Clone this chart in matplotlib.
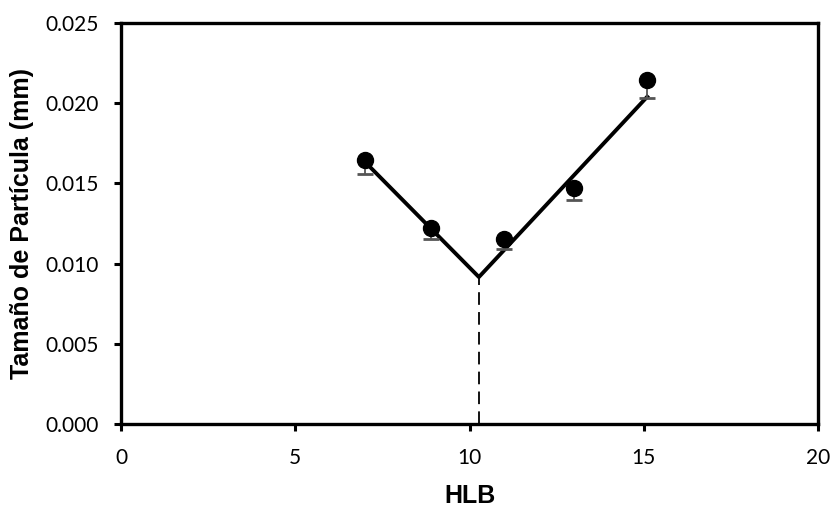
import numpy as np
import matplotlib.pyplot as plt

# datos medidos
hlb = [7.0, 8.9, 11.0, 13.0, 15.1]
tam = [0.01646, 0.01222, 0.01153, 0.01471, 0.02145]
err = [0.00087, 0.0007, 0.0006, 0.00073, 0.0011]

# rectas de ajuste (interseccion en HLB ~10.27)
fit_x = [6.95, 10.27, 15.1]
fit_y = [0.01645, 0.00916, 0.0204]
hlb_opt = 10.27

fig = plt.figure(figsize=(8.34, 5.08), dpi=100)
ax = fig.add_axes([0.1451, 0.1654, 0.8357, 0.7894])

ax.plot(fit_x, fit_y, 'k-', linewidth=2.8, zorder=2)
ax.plot([hlb_opt, hlb_opt], [0, fit_y[1]], 'k--', linewidth=1.3, dashes=(7, 4), zorder=2)
ax.errorbar(hlb, tam, yerr=[err, np.zeros(len(err))], fmt='none', ecolor='#555555',
            elinewidth=1.3, capsize=6, capthick=2, zorder=3)
ax.plot(hlb, tam, 'o', color='black', markersize=11.5, zorder=4)

ax.set_xlim(0, 20)
ax.set_ylim(0, 0.025)
ax.set_xticks([0, 5, 10, 15, 20])
ax.set_yticks(np.arange(0, 0.0251, 0.005))
ax.yaxis.set_major_formatter(plt.FormatStrFormatter('%.3f'))

for s in ax.spines.values():
    s.set_linewidth(2.4)
ax.tick_params(direction='out', length=5, width=2.2, labelsize=15)
ax.tick_params(axis='x', pad=12)
ax.tick_params(axis='y', pad=11)
for lab in ax.get_xticklabels() + ax.get_yticklabels():
    lab.set_family(['Lato', 'DejaVu Sans'])

ax.set_xlabel('HLB', fontsize=18, fontweight='bold', family=['Liberation Sans', 'DejaVu Sans'], labelpad=12)
ax.set_ylabel('Tamaño de Partícula (mm)', fontsize=18, fontweight='bold',
              family=['Liberation Sans', 'DejaVu Sans'], labelpad=8)

plt.savefig('out.png', dpi=100)
